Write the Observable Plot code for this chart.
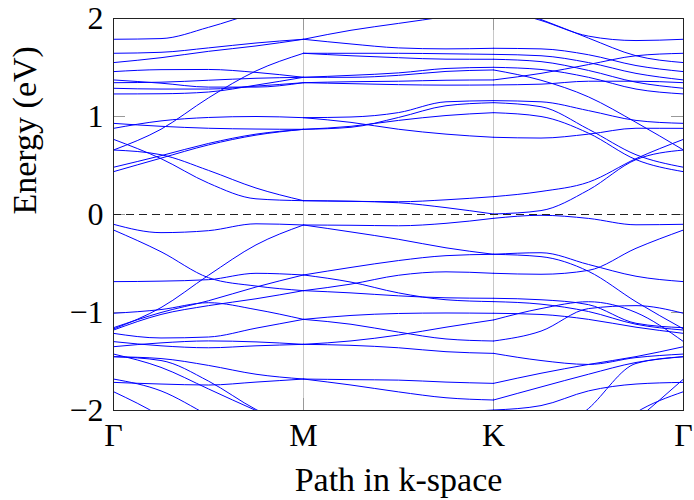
<!DOCTYPE html>
<html><head><meta charset="utf-8">
<script src="https://cdn.jsdelivr.net/npm/d3@7"></script>
<script src="https://cdn.jsdelivr.net/npm/@observablehq/plot@0.6"></script>
<style>body{margin:0;background:#fff}</style>
</head><body><div id="chart"></div>
<script>
const kLabels = ["Γ", "M", "K", "Γ"];
const xTicks = [0, 1, 2, 3];
const yTicks = [-2, -1, 0, 1, 2];
const tSeg = [0, 0.25, 0.5, 0.75, 1];

// Γ → M
const bandsGM = [
  [1.788, 1.795, 1.91, 2.06, 2.2],
  [1.645, 1.655, 1.70, 1.75, 1.788],
  [1.550, 1.60, 1.665, 1.72, 1.788],
  [1.458, 1.478, 1.48, 1.45, 1.40],
  [1.373, 1.34, 1.30, 1.30, 1.345],
  [1.345, 1.35, 1.37, 1.39, 1.40],
  [1.288, 1.28, 1.28, 1.31, 1.345],
  [1.230, 1.232, 1.25, 1.32, 1.40],
  [0.658, 0.87, 1.19, 1.465, 1.645],
  [0.930, 0.90, 0.88, 0.872, 0.869],
  [0.879, 0.955, 0.99, 1.0, 0.988],
  [0.482, 0.60, 0.725, 0.82, 0.869],
  [0.437, 0.575, 0.71, 0.81, 0.869],
  [0.767, 0.57, 0.32, 0.16, 0.141],
  [0.658, 0.61, 0.45, 0.27, 0.141],
  [-0.100, -0.185, -0.165, -0.095, -0.107],
  [-0.158, -0.38, -0.645, -0.73, -0.777],
  [-0.685, -0.68, -0.665, -0.60, -0.617],
  [-1.168, -0.95, -0.62, -0.31, -0.107],
  [-1.155, -1.0, -0.88, -0.74, -0.617],
  [-1.179, -1.02, -0.93, -0.86, -0.777],
  [-1.008, -0.97, -0.90, -0.97, -1.070],
  [-1.213, -1.26, -1.25, -1.16, -1.070],
  [-1.297, -1.34, -1.36, -1.34, -1.325],
  [-1.349, -1.31, -1.29, -1.30, -1.325],
  [-1.451, -1.47, -1.54, -1.63, -1.679],
  [-1.451, -1.49, -1.70, -1.99, -2.2],
  [-1.424, -1.56, -1.78, -2.0, -2.2],
  [-1.679, -1.80, -2.05, -2.3, -2.5],
  [-1.713, -1.73, -1.74, -1.71, -1.679],
  [-1.808, -2.06, -2.4, -2.7, -3.0]
];

// M → K
const bandsMK = [
  [1.788, 1.88, 1.95, 2.02, 2.1],
  [1.788, 1.74, 1.70, 1.69, 1.696],
  [1.645, 1.645, 1.645, 1.64, 1.634],
  [1.645, 1.62, 1.60, 1.585, 1.584],
  [1.40, 1.42, 1.445, 1.49, 1.502],
  [1.40, 1.40, 1.42, 1.46, 1.475],
  [1.345, 1.355, 1.36, 1.37, 1.373],
  [1.345, 1.335, 1.325, 1.32, 1.322],
  [0.988, 0.995, 1.04, 1.15, 1.162],
  [0.869, 0.89, 0.99, 1.11, 1.141],
  [0.988, 0.94, 0.87, 0.82, 0.788],
  [0.869, 0.90, 0.96, 1.01, 1.039],
  [0.141, 0.135, 0.13, 0.15, 0.182],
  [0.141, 0.135, 0.12, 0.07, 0.005],
  [-0.107, -0.11, -0.115, -0.09, -0.039],
  [-0.107, -0.178, -0.253, -0.34, -0.406],
  [-0.617, -0.54, -0.47, -0.42, -0.406],
  [-0.617, -0.69, -0.80, -0.87, -0.889],
  [-0.777, -0.71, -0.62, -0.585, -0.600],
  [-0.777, -0.80, -0.83, -0.85, -0.855],
  [-1.070, -1.03, -1.01, -1.005, -1.008],
  [-1.070, -1.12, -1.20, -1.27, -1.291],
  [-1.325, -1.29, -1.23, -1.15, -1.076],
  [-1.325, -1.335, -1.36, -1.40, -1.417],
  [-1.679, -1.685, -1.69, -1.71, -1.723],
  [-1.679, -1.74, -1.81, -1.87, -1.893],
  [-2.3, -2.2, -2.1, -2.03, -1.995]
];

// K → Γ
const bandsKG = [
  [2.12, 1.98, 1.82, 1.775, 1.788],
  [2.15, 1.99, 1.80, 1.62, 1.550],
  [1.696, 1.69, 1.63, 1.52, 1.458],
  [1.634, 1.62, 1.55, 1.44, 1.373],
  [1.584, 1.56, 1.47, 1.35, 1.288],
  [1.502, 1.48, 1.40, 1.28, 1.230],
  [1.373, 1.44, 1.53, 1.62, 1.645],
  [1.322, 1.33, 1.36, 1.36, 1.345],
  [1.475, 1.37, 1.20, 0.94, 0.658],
  [1.162, 1.15, 1.06, 0.96, 0.930],
  [1.141, 1.10, 0.87, 0.61, 0.482],
  [1.039, 1.00, 0.83, 0.56, 0.437],
  [0.788, 0.78, 0.82, 0.88, 0.879],
  [0.182, 0.235, 0.33, 0.57, 0.767],
  [0.005, 0.04, 0.25, 0.56, 0.658],
  [-0.039, -0.008, -0.04, -0.105, -0.100],
  [-0.406, -0.39, -0.51, -0.63, -0.685],
  [-0.406, -0.43, -0.58, -0.89, -1.168],
  [-0.600, -0.61, -0.57, -0.345, -0.158],
  [-0.855, -0.87, -0.92, -1.11, -1.155],
  [-0.889, -0.915, -0.99, -1.12, -1.179],
  [-1.008, -1.02, -1.07, -1.15, -1.213],
  [-1.076, -0.96, -0.89, -1.0, -1.297],
  [-1.291, -1.19, -0.96, -0.93, -1.008],
  [-1.417, -1.49, -1.53, -1.46, -1.424],
  [-1.723, -1.62, -1.53, -1.45, -1.349],
  [-1.893, -1.76, -1.63, -1.51, -1.451],
  [-1.995, -1.95, -1.80, -1.73, -1.713],
  [-2.7, -2.35, -1.98, -1.52, -1.451],
  [-3.0, -2.8, -2.5, -2.1, -1.679],
  [-3.0, -2.7, -2.4, -2.02, -1.808]
];

const segments = [
  {start: 0, bands: bandsGM},
  {start: 1, bands: bandsMK},
  {start: 2, bands: bandsKG}
];
const rows = [];
segments.forEach((s, si) => s.bands.forEach((b, bi) => b.forEach((E, i) =>
  rows.push({band: si + "-" + bi, k: s.start + tSeg[i], E}))));

const W = 694, H = 500, mL = 113, mR = 11, mT = 18, mB = 90;
const plotW = W - mL - mR, plotH = H - mT - mB;
const font = "'Liberation Serif', 'Times New Roman', serif";
const fs = 32, fsLabel = 34;
const fmtY = d => d < 0 ? "\u2212" + (-d) : String(d);

const chart = Plot.plot({
  width: W, height: H,
  marginLeft: mL, marginRight: mR, marginTop: mT, marginBottom: mB,
  x: {domain: [0, 3]},
  y: {domain: [-2, 2]},
  style: `font-family: ${font}; font-size: ${fs}px; color: #000; background: #fff;`,
  marks: [
    Plot.ruleX([1, 2], {stroke: "#c8c8c8", strokeWidth: 1}),
    Plot.tickY(yTicks, {y: d => d, insetRight: plotW - 12, stroke: "#999"}),
    Plot.tickY(yTicks, {y: d => d, insetLeft: plotW - 12, stroke: "#999"}),
    Plot.tickX(xTicks, {x: d => d, insetBottom: plotH - 12, stroke: "#999"}),
    Plot.tickX(xTicks, {x: d => d, insetTop: plotH - 12, stroke: "#999"}),
    Plot.line(rows, {x: "k", y: "E", z: "band", curve: "monotone-x", stroke: "#0000ff", strokeWidth: 1, clip: true}),
    Plot.ruleY([0], {stroke: "#222", strokeWidth: 1, strokeDasharray: "8,5"}),
    Plot.frame({stroke: "#222", strokeWidth: 1}),
    Plot.axisY({ticks: yTicks, tickFormat: fmtY, tickSize: 0, tickPadding: 10, label: null, fontSize: fs, fontFamily: font}),
    Plot.axisX({ticks: xTicks, tickFormat: i => kLabels[i], tickSize: 0, tickPadding: 13, label: null, fontSize: fs, fontFamily: font}),
    Plot.text(["Path in k-space"], {frameAnchor: "bottom", dy: 80, fontSize: fsLabel, fontFamily: font, lineAnchor: "bottom"}),
    Plot.text(["Energy (eV)"], {frameAnchor: "left", dx: -88, rotate: -90, fontSize: fsLabel, fontFamily: font})
  ]
});
document.getElementById("chart").appendChild(chart);
</script>
</body></html>
